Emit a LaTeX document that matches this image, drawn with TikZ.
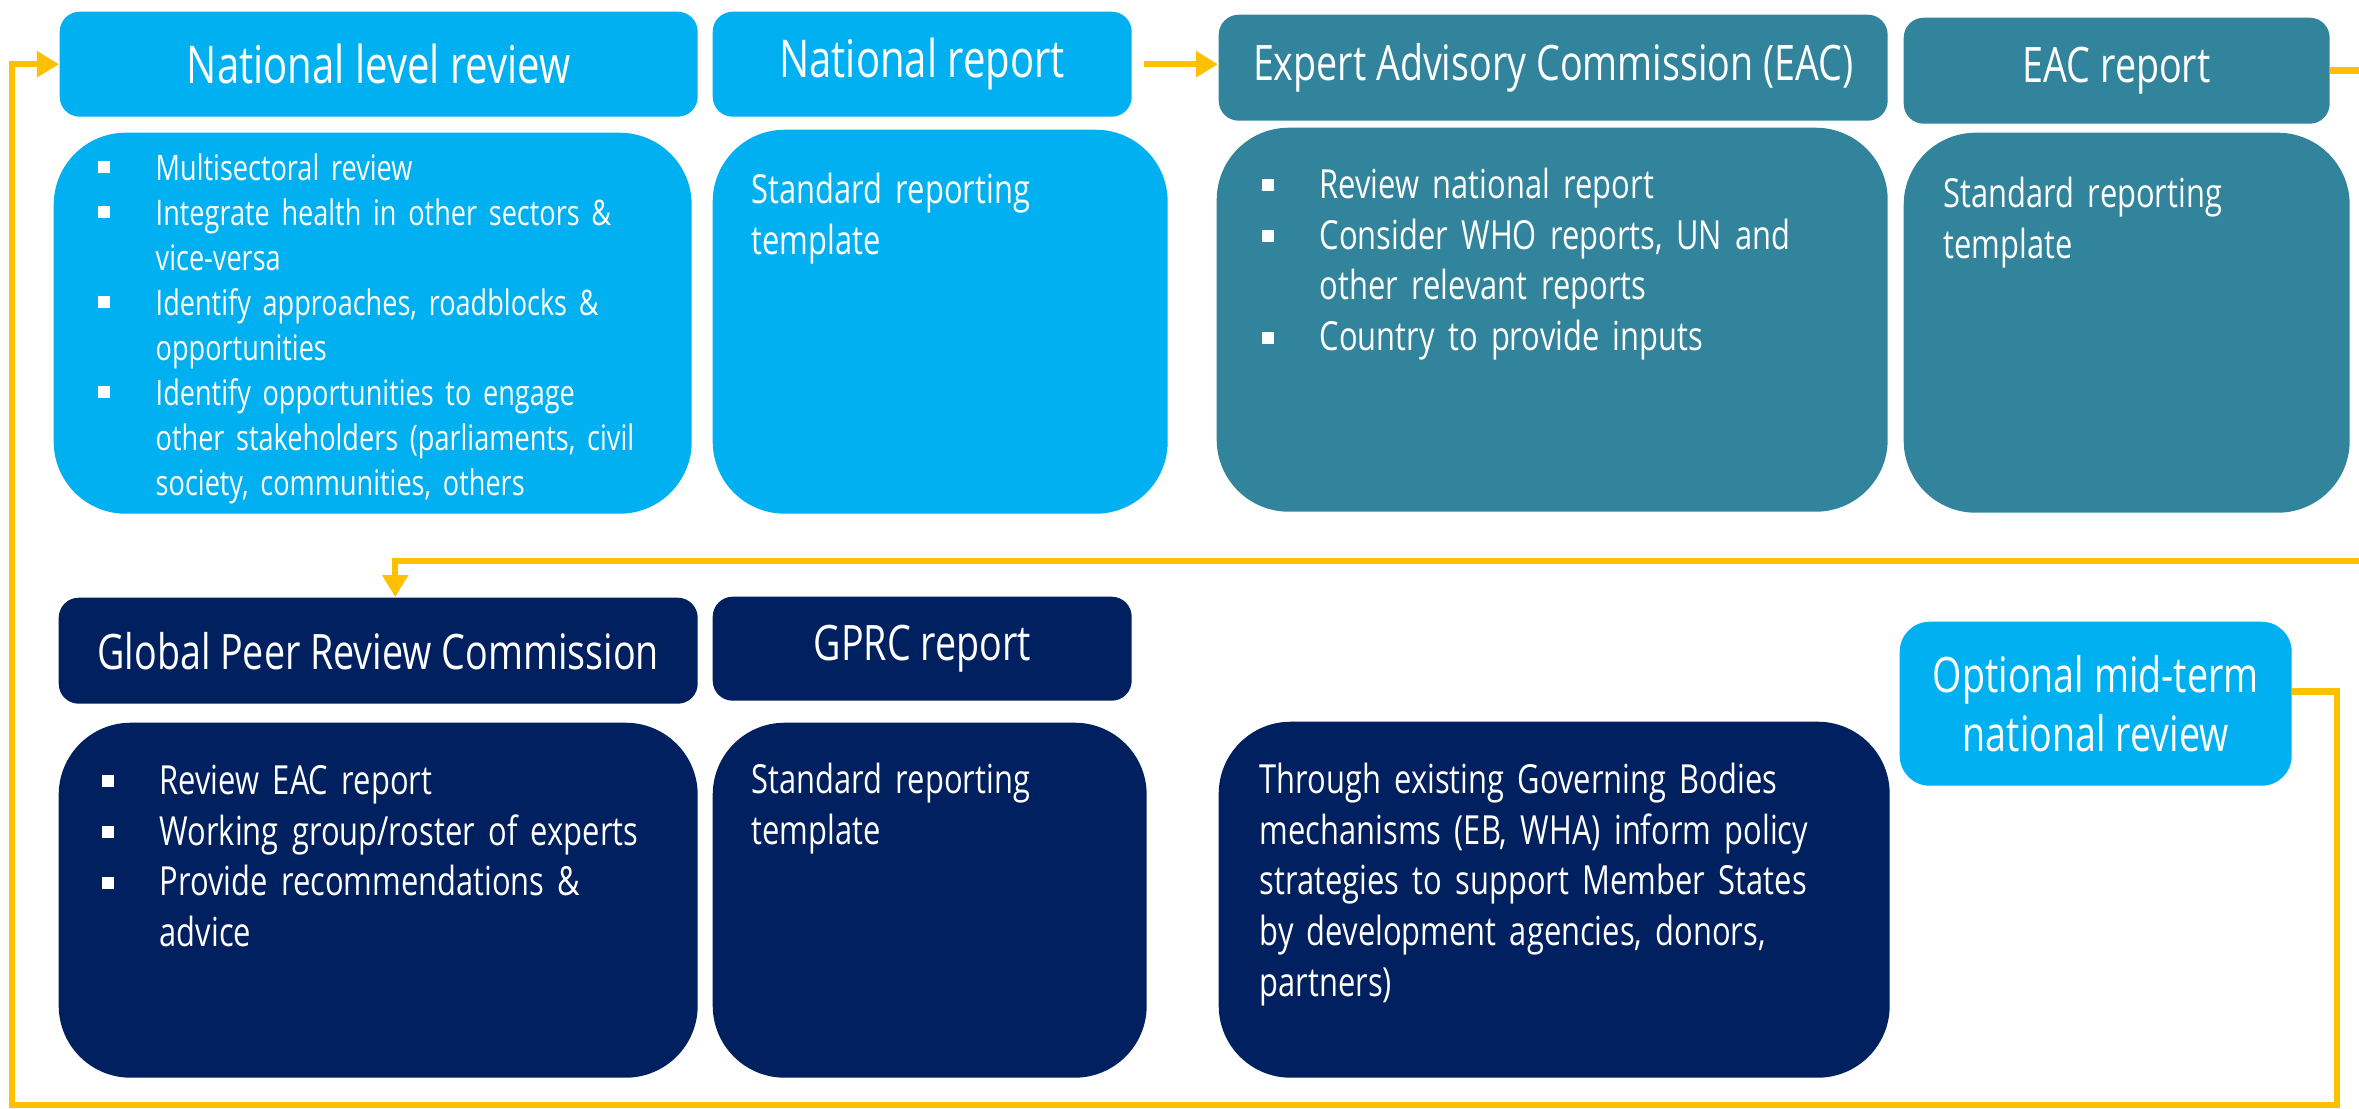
\documentclass[tikz,border=0pt]{standalone}
\usepackage{fontspec}
\setmainfont{Open Sans}[FakeStretch=0.77]
\usetikzlibrary{arrows.meta}

\definecolor{revblue}{HTML}{00B0F0}
\definecolor{eacteal}{HTML}{31849B}
\definecolor{peernavy}{HTML}{002060}
\definecolor{loopgold}{HTML}{FFC000}

% square bullet, later lines hang under the text
\newcommand{\sqitem}[1]{\noindent\hangindent=0.58cm\hangafter=1%
  \makebox[0.58cm][l]{\rule[0.07cm]{0.12cm}{0.12cm}}#1\par}

\begin{document}
\begin{tikzpicture}[x=0.01cm, y=-0.01cm,
    card/.style={rectangle, rounded corners=0.2cm, inner sep=0pt, anchor=north west, text=white},
    head/.style={card, font=\fontsize{13.9pt}{16pt}\selectfont},
    panel/.style={card, rounded corners=0.72cm},
    wh/.style n args={2}{minimum width=#1*0.01cm, minimum height=#2*0.01cm},
    words/.style={anchor=base west, inner sep=0pt, text=white, text width=8cm, align=left,
      font=\fontsize{11.4pt}{14.5pt}\selectfont},
    flow/.style={draw=loopgold, line width=0.065cm, -{Triangle[length=0.22cm, width=0.25cm]}}
  ]
    % Fix the page to the slide
    \clip (0,0) rectangle (2359,1108);

    % Draw the national stage
    \node[head, fill=revblue, wh={638}{105}, font=\fontsize{14.8pt}{17pt}\selectfont] (nlr) at (59,11) {National level review};
    \node[head, fill=revblue, wh={419}{105}, font=\fontsize{14.8pt}{17pt}\selectfont] (nr) at (712,11) {National report};
    \node[panel, fill=revblue, wh={638}{381}] (nlrb) at (53,132) {};
    \node[panel, fill=revblue, wh={455}{384}] (nrb) at (712,129) {};

    \node[words, font=\fontsize{10pt}{12.8pt}\selectfont] (nlrtext) at ([shift={(44,48)}]nlrb.north west) {%
      \sqitem{Multisectoral review}%
      \sqitem{Integrate health in other sectors \&\newline vice-versa}%
      \sqitem{Identify approaches, roadblocks \&\newline opportunities}%
      \sqitem{Identify opportunities to engage\newline other stakeholders (parliaments, civil\newline society, communities, others}};
    \node[words] (nrtext) at ([shift={(39,74)}]nrb.north west) {Standard reporting\\ template};

    % Draw the expert stage
    \node[head, fill=eacteal, wh={669}{106}] (eac) at (1218,14) {Expert Advisory Commission (EAC)};
    \node[head, fill=eacteal, wh={426}{106}] (eacr) at (1903,17) {EAC report};
    \node[panel, fill=eacteal, wh={671}{384}] (eacb) at (1216,127) {};
    \node[panel, fill=eacteal, wh={446}{380}] (eacrb) at (1903,132) {};

    \node[words] (eactext) at ([shift={(45,71)}]eacb.north west) {%
      \sqitem{Review national report}%
      \sqitem{Consider WHO reports, UN and\newline other relevant reports}%
      \sqitem{Country to provide inputs}};
    \node[words] (eacrtext) at ([shift={(40,75)}]eacrb.north west) {Standard reporting\\ template};

    % Draw the global stage
    \node[head, fill=peernavy, wh={639}{106}] (gprc) at (58,597) {Global Peer Review Commission};
    \node[head, fill=peernavy, wh={419}{104}] (gprcr) at (712,596) {GPRC report};
    \node[panel, fill=peernavy, wh={639}{355}] (gprcb) at (58,722) {};
    \node[panel, fill=peernavy, wh={434}{355}] (gprcrb) at (712,722) {};
    \node[panel, fill=peernavy, wh={671}{356}] (gbb) at (1218,721) {};

    \node[words] (gprctext) at ([shift={(43,72)}]gprcb.north west) {%
      \sqitem{Review EAC report}%
      \sqitem{Working group/roster of experts}%
      \sqitem{Provide recommendations \&\newline advice}};
    \node[words] (gprcrtext) at ([shift={(39,71)}]gprcrb.north west) {Standard reporting\\ template};
    \node[words] (gbtext) at ([shift={(41,72)}]gbb.north west) {Through existing Governing Bodies\\
      mechanisms (EB, WHA) inform policy\\ strategies to support Member States\\
      by development agencies, donors,\\ partners)};

    % Optional review
    \node[card, fill=revblue, wh={392}{164}, rounded corners=0.3cm, align=center,
      font=\fontsize{13.9pt}{16.8pt}\selectfont] (opt) at (1899,621) {Optional mid-term\\ national review};

    % Connectors
    \coordinate (offR) at (2400,561);
    \coordinate (loopR) at (2337,1105);
    \coordinate (loopL) at (12,1105);
    \draw[flow, shorten <=0.12cm] (nr.east) -- (nr.east -| eac.west);
    \draw[flow] (eacr.east) -| (offR) -| ([xshift=0.17cm]gprc.north);
    \draw[flow] ([yshift=0.12cm]opt.east) -| (loopR) -- (loopL) |- (nlr.west);

\end{tikzpicture}
\end{document}
